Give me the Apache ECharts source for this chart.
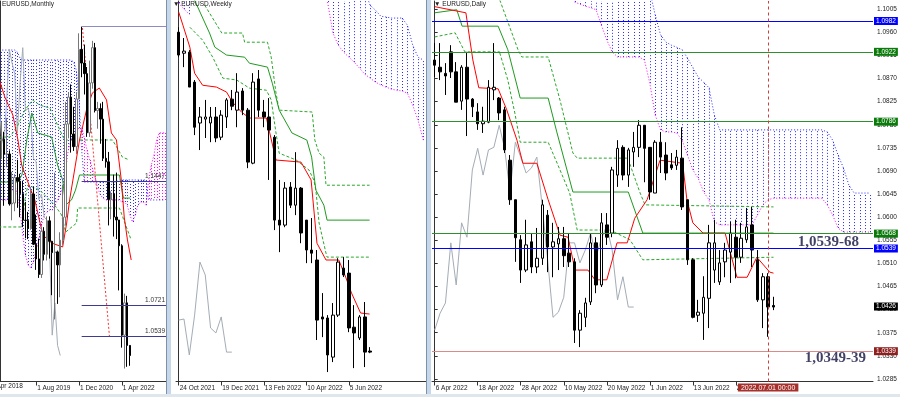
<!DOCTYPE html>
<html>
<head>
<meta charset="utf-8">
<script src="https://cdn.jsdelivr.net/npm/echarts@6/dist/echarts.min.js"></script>
<style>
html,body{margin:0;padding:0;background:#fff;}
#chart{width:900px;height:397px;}
</style>
</head>
<body>
<div id="chart"></div>
<script>
var MONTHS = ['Jan','Feb','Mar','Apr','May','Jun','Jul','Aug','Sep','Oct','Nov','Dec'];
function fmt(d){ return d.getUTCDate() + ' ' + MONTHS[d.getUTCMonth()] + ' ' + d.getUTCFullYear(); }
function dayCats(start, n){
	var d = new Date(start + 'T00:00:00Z'), out = [];
	while (out.length < n) {
		var w = d.getUTCDay();
		if (w !== 0 && w !== 6) out.push(fmt(d));
		d.setUTCDate(d.getUTCDate() + 1);
	}
	return out;
}
function weekCats(start, n){
	var d = new Date(start + 'T00:00:00Z'), out = [];
	for (var i = 0; i < n; i++) { out.push(fmt(d)); d.setUTCDate(d.getUTCDate() + 7); }
	return out;
}
function monthCats(y, m, n){
	var out = [];
	for (var i = 0; i < n; i++) { out.push('1 ' + MONTHS[m] + ' ' + y); m++; if (m > 11) { m = 0; y++; } }
	return out;
}

/* ---------------- categories ---------------- */
var mCats = monthCats(2018, 3, 65);          // Apr 2018 ...
var mFirstShown = 3;                          // Apr..Jun 2018 sit left of the panel edge
var wCats = weekCats('2021-10-24', 47);
var dCats = dayCats('2022-04-06', 82);

/* ---------------- monthly [open, close, low, high] ---------------- */
var mCandles = [
	[1.2324,1.2078,1.2055,1.2414],[1.2078,1.1693,1.1510,1.2097],[1.1693,1.1683,1.1508,1.1852],[1.1683,1.1690,1.1575,1.1791],
	[1.1690,1.1604,1.1301,1.1734],[1.1604,1.1604,1.1526,1.1815],[1.1604,1.1312,1.1302,1.1625],[1.1312,1.1317,1.1216,1.1500],
	[1.1317,1.1466,1.1269,1.1486],[1.1466,1.1445,1.1289,1.1570],[1.1445,1.1372,1.1234,1.1488],[1.1372,1.1217,1.1176,1.1448],
	[1.1217,1.1215,1.1111,1.1324],[1.1215,1.1168,1.1106,1.1265],[1.1168,1.1370,1.1160,1.1412],[1.1370,1.1076,1.1071,1.1412],
	[1.1076,1.0990,1.0926,1.1250],[1.0990,1.0899,1.0879,1.1109],[1.0899,1.1152,1.0879,1.1179],[1.1152,1.1017,1.0981,1.1176],
	[1.1017,1.1213,1.0981,1.1239],[1.1213,1.1093,1.0992,1.1239],[1.1093,1.1027,1.0778,1.1096],[1.1027,1.1031,1.0636,1.1495],
	[1.1031,1.0955,1.0727,1.1039],[1.0955,1.1100,1.0766,1.1146],[1.1100,1.1234,1.1072,1.1422],[1.1234,1.1779,1.1185,1.1909],
	[1.1779,1.1937,1.1696,1.1966],[1.1937,1.1721,1.1612,1.2011],[1.1721,1.1647,1.1622,1.1880],[1.1647,1.1926,1.1603,1.1966],
	[1.1926,1.2216,1.1924,1.2310],[1.2216,1.2136,1.2053,1.2349],[1.2136,1.2074,1.1952,1.2243],[1.2074,1.1728,1.1704,1.2113],
	[1.1728,1.2020,1.1704,1.2150],[1.2020,1.2226,1.1986,1.2266],[1.2226,1.1858,1.1847,1.2254],[1.1858,1.1870,1.1752,1.1909],
	[1.1870,1.1808,1.1664,1.1900],[1.1808,1.1579,1.1563,1.1909],[1.1579,1.1558,1.1524,1.1692],[1.1558,1.1338,1.1186,1.1616],
	[1.1338,1.1370,1.1222,1.1386],[1.1370,1.1235,1.1121,1.1483],[1.1235,1.1218,1.1106,1.1495],[1.1218,1.1067,1.0806,1.1185],
	[1.1067,1.0544,1.0471,1.1076],[1.0544,1.0733,1.0349,1.0787],[1.0733,1.0484,1.0359,1.0774],[1.0484,1.0425,1.0365,1.0486]
];
var mTenkan = [[2.5,1.2025],[4.3,1.1937],[7.3,1.1832],[9.2,1.1686],[10.6,1.1539],[13.6,1.1411],[15.5,1.1335],[18.5,1.1130],
	[21.8,1.1083],[25.9,1.1060],[27.4,1.1200],[28.5,1.1335],[32.2,1.1686],[34.8,1.1861],[37,1.1961],[39.6,1.1990],
	[42.3,1.1920],[44.1,1.1727],[46,1.1686],[47.8,1.1452],[48.9,1.1235],[50.1,1.1101],[51.5,1.0984]];
var mKijun = [[0,1.1440],[9.2,1.1440],[10.7,1.1481],[12.5,1.1686],[14.4,1.1844],[16.6,1.1727],[21.8,1.1703],[24,1.1539],
	[25.9,1.1452],[27,1.1305],[29.2,1.1335],[30.7,1.1393],[32.2,1.1481],[47.1,1.1481],[48.6,1.1346],[51.2,1.1346]];
var mDashHigh = [[0,1.1703],[6.2,1.1703],[9.2,1.1773],[11.8,1.1861],[14.7,1.1920],[17.3,1.1890],[21.1,1.1873],[24,1.1773],
	[26.6,1.1686],[44.5,1.1686],[46.3,1.1639],[48.2,1.1586],[50.8,1.1569]];
var mDashLow = [[0,1.1177],[10.7,1.1177],[11.8,1.1335],[12.9,1.1422],[17.3,1.1393],[22.9,1.1305],[25.5,1.1247],[27,1.1147],
	[31.1,1.1200],[31.5,1.1288],[47.1,1.1288],[49.7,1.1177],[51.5,1.1101]];
var mChikou = [1.1234,1.1779,1.1937,1.1721,1.1647,1.1926,1.2216,1.2136,1.2074,1.1728,1.2020,1.2226,1.1858,
	1.1870,1.1808,1.1579,1.1558,1.1338,1.1370,1.1235,1.1218,1.1067,1.0544,1.0733,1.0484,1.0425];
var mSpanA = [1.1335,1.1335,1.1335,1.1335,1.1335,1.1335,1.1364,1.1393,1.1422,1.1364,1.1276,1.1130,1.1013,1.0954,1.0937,
	1.0972,1.1042,1.1101,1.1188,1.1247,1.1264,1.1276,1.1276,1.1305,1.1335,1.1364,1.1422,1.1510,1.1627,1.1686,1.1715,
	1.1727,1.1756,1.1756,1.1697,1.1627,1.1569,1.1522,1.1463,1.1405,1.1364,1.1346,1.1335,1.1335,1.1335,1.1335,1.1335,
	1.1335,1.1323,1.1323,1.1305,1.1247,1.1206,1.1247,1.1305,1.1323,1.1323,1.1305,1.1452,1.1539,1.1598,1.1686,1.1727,
	1.1727,1.1727];
var mSpanB = [1.2212,1.2212,1.2212,1.2212,1.2212,1.2212,1.2212,1.2212,1.2212,1.2200,1.2165,1.2154,1.2154,1.2154,1.2154,
	1.2154,1.2154,1.2154,1.2154,1.2154,1.2154,1.2154,1.2154,1.2154,1.2154,1.2154,1.2154,1.2154,1.2154,1.2154,1.2142,
	1.2095,1.1920,1.1627,1.1440,1.1440,1.1440,1.1440,1.1440,1.1440,1.1440,1.1440,1.1440,1.1440,1.1440,1.1440,1.1440,
	1.1452,1.1452,1.1452,1.1452,1.1452,1.1452,1.1452,1.1452,1.1452,1.1452,1.1452,1.1335,1.1335,1.1335,1.1335,1.1335,
	1.1335,1.1335];
var mTrend = [[33.3,1.2341],[43.4,1.0533]];
var mLevels = [1.2349, 1.1447, 1.0721, 1.0539];
var mLevelFrom = 33;

/* ---------------- weekly [open, close, low, high] ---------------- */
var wCandles = [
	[1.1644,1.1557,1.1549,1.1663],[1.1564,1.1572,1.1511,1.1622],[1.1568,1.1435,1.1435,1.1576],[1.1454,1.1282,1.1252,1.1462],
	[1.1298,1.1321,1.1195,1.1359],[1.1313,1.1321,1.1241,1.1386],[1.1298,1.1321,1.1225,1.1359],[1.1321,1.1241,1.1225,1.1359],
	[1.1244,1.1328,1.1233,1.1347],[1.1321,1.1386,1.1279,1.1393],[1.1389,1.1362,1.1347,1.1424],[1.1347,1.1416,1.1282,1.1488],
	[1.1420,1.1347,1.1328,1.1431],[1.1347,1.1149,1.1126,1.1355],[1.1145,1.1454,1.1141,1.1488],[1.1466,1.1347,1.1321,1.1500],
	[1.1340,1.1321,1.1282,1.1386],[1.1321,1.1271,1.1081,1.1393],[1.1244,1.0928,1.0890,1.1252],[1.0928,1.0909,1.0806,1.1081],
	[1.0909,1.1050,1.0901,1.1073],[1.1054,1.0985,1.0974,1.1073],[1.0985,1.1050,1.0947,1.1187],[1.1050,1.0879,1.0840,1.1054],
	[1.0928,1.0814,1.0764,1.0928],[1.0814,1.0802,1.0764,1.0936],[1.0776,1.0547,1.0471,1.0814],[1.0559,1.0551,1.0482,1.0650],
	[1.0555,1.0414,1.0349,1.0566],[1.0406,1.0566,1.0387,1.0612],[1.0566,1.0768,1.0559,1.0783],[1.0745,1.0719,1.0711,1.0787],
	[1.0726,1.0517,1.0501,1.0776],[1.0520,1.0498,1.0364,1.0604],[1.0479,1.0559,1.0471,1.0566],[1.0559,1.0425,1.0368,1.0616],
	[1.0429,1.0425,1.0421,1.0444]
];
var wTenkan = [[0,1.1721],[0.8,1.1671],[2.1,1.1587],[3,1.1488],[4.5,1.1442],[7.1,1.1435],[9,1.1416],[10.1,1.1378],
	[11.8,1.1340],[13.3,1.1317],[16.5,1.1317],[17,1.1271],[18.3,1.1157],[23,1.1149],[24.9,1.1081],[26,1.0840],
	[27.7,1.0776],[30.1,1.0776],[31.4,1.0711],[32.5,1.0650],[34.2,1.0574],[35.9,1.0570]];
var wKijun = [[3,1.1766],[5.8,1.1641],[6.8,1.1587],[9,1.1557],[12.4,1.1549],[13.3,1.1526],[16.7,1.1511],[17.6,1.1450],
	[18.9,1.1347],[21.3,1.1260],[24.1,1.1233],[25,1.1168],[25.8,1.1042],[27.3,1.0985],[27.9,1.0928],[35.9,1.0928]];
var wDashHigh = [[4.9,1.1747],[8.1,1.1641],[12,1.1641],[12.4,1.1606],[16.7,1.1606],[17.4,1.1549],[18.3,1.1412],[18.9,1.1347],
	[25.1,1.1340],[25.6,1.1233],[26.4,1.1183],[27.3,1.1168],[27.7,1.1061],[35.9,1.1061]];
var wDashLow = [[2.1,1.1663],[4.5,1.1614],[6.4,1.1549],[8.3,1.1469],[10.9,1.1462],[13.3,1.1431],[16.5,1.1423],[17.4,1.1386],
	[18.3,1.1260],[18.9,1.1183],[22.1,1.1157],[24.5,1.1119],[25.4,1.1081],[25.8,1.1042],[26.4,1.0917],[27.7,1.0802],
	[27.9,1.0787],[35.9,1.0787]];
var wChikou = [1.0547,1.0551,1.0414,1.0566,1.0768,1.0719,1.0517,1.0498,1.0559,1.0425,1.0425];
var wOldCloudA = [1.1755,1.1732,1.1713];
var wOldCloudB = [1.1800,1.1800,1.1800];
var wCloudStart = 28;
var wSpanA = [1.1759,1.1641,1.1595,1.1568,1.1549,1.1530,1.1507,1.1484,1.1469,1.1454,1.1443,1.1435,1.1427,1.1423,
	1.1420,1.1412,1.1366,1.1309,1.1233];
var wSpanB = [1.1800,1.1800,1.1800,1.1800,1.1800,1.1800,1.1800,1.1800,1.1747,1.1728,1.1705,1.1702,1.1698,1.1698,
	1.1698,1.1671,1.1595,1.1549,1.1538];

/* ---------------- daily [open, close, low, high] ---------------- */
var dCandles = [
	[1.0906,1.0896,1.0873,1.0939],[1.0892,1.0883,1.0867,1.0939],[1.0880,1.0875,1.0838,1.0900],[1.0922,1.0883,1.0871,1.0935],
	[1.0883,1.0824,1.0824,1.0902],[1.0826,1.0892,1.0809,1.0896],[1.0892,1.0830,1.0758,1.0922],[1.0830,1.0815,1.0795,1.0832],
	[1.0805,1.0782,1.0770,1.0822],[1.0782,1.0787,1.0764,1.0815],[1.0785,1.0853,1.0783,1.0867],[1.0848,1.0853,1.0828,1.0939],
	[1.0832,1.0803,1.0789,1.0834],[1.0809,1.0731,1.0725,1.0815],[1.0711,1.0634,1.0624,1.0721],[1.0634,1.0560,1.0513,1.0634],
	[1.0556,1.0497,1.0472,1.0565],[1.0497,1.0546,1.0493,1.0595],[1.0552,1.0503,1.0491,1.0569],[1.0503,1.0520,1.0491,1.0579],
	[1.0520,1.0624,1.0507,1.0634],[1.0604,1.0542,1.0493,1.0614],[1.0542,1.0552,1.0483,1.0589],[1.0548,1.0558,1.0497,1.0581],
	[1.0558,1.0525,1.0503,1.0581],[1.0530,1.0513,1.0503,1.0569],[1.0513,1.0380,1.0355,1.0520],[1.0380,1.0413,1.0347,1.0419],
	[1.0405,1.0433,1.0386,1.0443],[1.0435,1.0550,1.0429,1.0569],[1.0550,1.0468,1.0452,1.0561],[1.0468,1.0589,1.0464,1.0608],
	[1.0585,1.0561,1.0546,1.0608],[1.0569,1.0692,1.0561,1.0698],[1.0682,1.0734,1.0659,1.0750],[1.0736,1.0682,1.0672,1.0740],
	[1.0682,1.0731,1.0659,1.0735],[1.0727,1.0736,1.0698,1.0766],[1.0736,1.0779,1.0717,1.0789],[1.0779,1.0734,1.0668,1.0779],
	[1.0736,1.0649,1.0634,1.0736],[1.0647,1.0746,1.0647,1.0750],[1.0746,1.0717,1.0686,1.0766],[1.0721,1.0686,1.0672,1.0746],
	[1.0702,1.0696,1.0692,1.0725],[1.0701,1.0717,1.0692,1.0731],[1.0715,1.0620,1.0614,1.0775],[1.0634,1.0517,1.0507,1.0634],
	[1.0517,1.0405,1.0403,1.0520],[1.0409,1.0415,1.0396,1.0439],[1.0413,1.0444,1.0361,1.0485],[1.0442,1.0550,1.0384,1.0585],
	[1.0497,1.0550,1.0472,1.0595],[1.0474,1.0511,1.0468,1.0536],[1.0513,1.0536,1.0483,1.0550],[1.0532,1.0569,1.0472,1.0591],
	[1.0561,1.0522,1.0481,1.0595],[1.0522,1.0559,1.0511,1.0589],[1.0556,1.0581,1.0550,1.0618],[1.0585,1.0536,1.0503,1.0620],
	[1.0517,1.0439,1.0435,1.0536],[1.0439,1.0484,1.0384,1.0491],[1.0484,1.0425,1.0367,1.0491],[1.0428,1.0425,1.0419,1.0445]
];
var dTenkan = [[0,1.1010],[5.8,1.0998],[7.1,1.0906],[8.2,1.0852],[11.8,1.0850],[13.4,1.0809],[15.3,1.0750],[16.4,1.0705],
	[19,1.0705],[21.1,1.0634],[23.3,1.0565],[24.8,1.0561],[26.1,1.0497],[28.5,1.0497],[29.8,1.0478],[32,1.0478],
	[33.9,1.0550],[35.8,1.0550],[37.2,1.0598],[39.5,1.0634],[41.9,1.0711],[46.1,1.0705],[46.9,1.0634],[48,1.0589],
	[49.9,1.0569],[54,1.0569],[56.2,1.0483],[58.1,1.0483],[59.9,1.0522],[62.3,1.0493],[63,1.0491]];
var dKijun = [[0,1.0998],[4.1,1.1004],[5.1,1.0972],[11.8,1.0972],[13.6,1.0926],[15.9,1.0832],[21.1,1.0832],[22.7,1.0766],
	[25.7,1.0649],[36,1.0649],[38.7,1.0569],[63,1.0569]];
var dDashTop = [[0,1.0951],[3.8,1.0959],[5.6,1.0922],[12.1,1.0922]];
var dDashHigh = [[12.1,1.1023],[15.5,1.0926],[16.2,1.0912],[21.1,1.0912],[23.3,1.0828],[25.7,1.0725],[26.5,1.0715],
	[35.9,1.0715],[38.2,1.0647],[39.1,1.0624],[63,1.0620]];
var dDashLow = [[12.1,1.0920],[13.6,1.0867],[14.9,1.0803],[15.9,1.0746],[21.1,1.0746],[23.3,1.0692],[25.1,1.0647],
	[26.5,1.0575],[32.6,1.0575],[36.3,1.0556],[38.7,1.0517],[63,1.0522]];
var dChikou = [1.0380,1.0413,1.0433,1.0550,1.0468,1.0589,1.0561,1.0692,1.0734,1.0682,1.0731,1.0736,1.0779,1.0734,
	1.0649,1.0746,1.0717,1.0686,1.0696,1.0717,1.0620,1.0517,1.0405,1.0415,1.0444,1.0550,1.0550,1.0511,1.0536,1.0569,
	1.0522,1.0559,1.0581,1.0536,1.0439,1.0484,1.0425,1.0425];
var dCloudStart = 26;
var dSpanA = [1.1019,1.1015,1.1011,1.1008,1.1004,1.0974,1.0945,1.0922,1.0912,1.0912,1.0912,1.0912,1.0912,1.0906,
	1.0861,1.0799,1.0770,1.0766,1.0766,1.0764,1.0750,1.0721,1.0692,1.0676,1.0649,1.0634,1.0591,1.0585,1.0585,1.0585,
	1.0585,1.0585,1.0585,1.0585,1.0604,1.0624,1.0634,1.0637,1.0637,1.0637,1.0637,1.0637,1.0637,1.0637,1.0637,1.0637,
	1.0637,1.0624,1.0604,1.0579,1.0571,1.0571,1.0571,1.0571,1.0571,1.0571];
var dSpanB = [1.1040,1.1040,1.1040,1.1040,1.1040,1.1040,1.1040,1.1040,1.1040,1.1040,1.1040,1.1040,1.1040,1.1040,
	1.1040,1.0994,1.0955,1.0941,1.0935,1.0931,1.0926,1.0910,1.0891,1.0873,1.0863,1.0852,1.0799,1.0770,1.0770,1.0770,
	1.0770,1.0770,1.0770,1.0770,1.0770,1.0770,1.0770,1.0770,1.0770,1.0770,1.0770,1.0770,1.0770,1.0770,1.0770,1.0770,
	1.0770,1.0766,1.0750,1.0721,1.0696,1.0663,1.0647,1.0647,1.0647,1.0647];
var dBlueLevels = [1.0982, 1.0539];
var dGreenLevels = [1.0922, 1.0786, 1.0568];
var dSupportLevel = 1.0339;
var dLastPrice = 1.0426;
var dMarkDay = '1 Jul 2022';
var dMarkText = '2022.07.01 00:00';
var dNotes = [[73.2, 1.0552], [74.5, 1.0326]];
var dNoteTexts = ['1,0539-68', '1,0349-39'];
var dTicks = [1.1005,1.0960,1.0915,1.0870,1.0825,1.0780,1.0735,1.0690,1.0645,1.0600,1.0555,1.0510,1.0465,1.0420,1.0375,1.0330,1.0285];

/* ---------------- helpers ---------------- */
var RED = '#ff0000', KIJUN = '#1f9a1f', DASH = '#2aa82a', CHIKOU = '#a3acb5', BLUE = '#2a2aff', MAGENTA = '#ff00ff';
var FONT = 'Liberation Sans, Arial, sans-serif';
var CLEAR = 'rgba(0,0,0,0)';

function perIndex(arr, start){ return arr.map(function (v, i) { return [i + start, v]; }); }

function ln(xi, yi, data, color, type, extra){
	var s = {type: 'line', xAxisIndex: xi, yAxisIndex: yi, data: data, symbol: 'none', silent: true, z: 3,
		lineStyle: {color: color, width: 1, type: type || 'solid'}};
	for (var k in extra) s[k] = extra[k];
	return s;
}

function candles(xi, yi, data, bw, bullBorder){
	return {type: 'candlestick', xAxisIndex: xi, yAxisIndex: yi, data: data, barWidth: bw, silent: true, z: 4,
		itemStyle: {color: '#fff', color0: '#000', borderColor: bullBorder, borderColor0: '#000', borderWidth: 1}};
}

// vertical dotted hatch between the two spans, coloured by which span is on top
function hatch(xi, yi, A, B, start){
	var d = [];
	for (var i = 0; i < A.length; i++) d.push([i + start, A[i], B[i]]);
	return {type: 'custom', xAxisIndex: xi, yAxisIndex: yi, data: d, silent: true, z: 1,
		encode: {x: 0, y: [1, 2]},
		renderItem: function (params, api) {
			var cs = params.coordSys;
			var a = api.value(1), b = api.value(2);
			var p1 = api.coord([api.value(0), a]), p2 = api.coord([api.value(0), b]);
			var top = cs.y, bot = cs.y + cs.height;
			var y1 = Math.max(top, Math.min(bot, p1[1])), y2 = Math.max(top, Math.min(bot, p2[1]));
			var x = Math.round(p1[0]) + 0.5;
			if (x < cs.x || x > cs.x + cs.width || Math.abs(y1 - y2) < 1) return null;
			return {type: 'line', shape: {x1: x, y1: y1, x2: x, y2: y2},
				style: {stroke: b > a ? BLUE : MAGENTA, lineWidth: 1, lineDash: [1, 2]}};
		}};
}

function cloud(xi, yi, A, B, start){
	return [
		hatch(xi, yi, A, B, start),
		ln(xi, yi, perIndex(A, start), MAGENTA, [1, 2], {z: 2}),
		ln(xi, yi, perIndex(B, start), BLUE, [1, 2], {z: 2})
	];
}

function catAxis(grid, cats, last, interval, first){
	first = first || 0;
	function show(i){ return i % interval === 0 && i <= last; }
	return {type: 'category', gridIndex: grid, data: cats, boundaryGap: true, min: first,
		axisLine: {show: true, lineStyle: {color: '#333', width: 1}},
		axisTick: {show: true, alignWithLabel: true, length: 4, interval: show, lineStyle: {color: '#333'}},
		axisLabel: {interval: show, align: 'left', margin: 3, fontSize: 6.5, color: '#222', fontFamily: FONT, padding: [0, 0, 0, 1]},
		splitLine: {show: false}};
}
function valAxis(grid, n, first){
	return {type: 'value', gridIndex: grid, min: (first || 0) - 0.5, max: n - 0.5, show: false};
}
function hiddenY(grid, min, max){
	return {type: 'value', gridIndex: grid, min: min, max: max, scale: true, position: 'left',
		axisLine: {show: true, lineStyle: {color: '#333'}}, axisTick: {show: false},
		axisLabel: {show: false}, splitLine: {show: false}};
}

function level(v, lineColor, boxColor){
	return {yAxis: v, lineStyle: {color: lineColor, type: 'solid', width: 1},
		label: {show: true, position: 'end', distance: 1, formatter: v.toFixed(4), backgroundColor: boxColor,
			color: '#fff', fontSize: 6.5, fontFamily: FONT, padding: [1, 2, 0, 2]}};
}

/* ---------------- series ---------------- */
var series = [];

// monthly (axes 0/1, y 0)
series = series.concat(cloud(1, 0, mSpanA, mSpanB, 0));
series.push(ln(1, 0, perIndex(mChikou, 0), CHIKOU));
series.push(ln(1, 0, mDashHigh, DASH, [3, 2]));
series.push(ln(1, 0, mDashLow, DASH, [3, 2]));
series.push(ln(1, 0, mKijun, KIJUN));
series.push(ln(1, 0, mTenkan, RED));
series.push(ln(1, 0, mTrend, '#ff3030', [2, 2], {
	markLine: {symbol: ['none', 'none'], silent: true, animation: false,
		data: mLevels.map(function (v, i) {
			return [
				{coord: [mLevelFrom, v], lineStyle: {color: i === 0 ? '#8c8cc4' : '#3c3c96', width: 1, type: 'solid'},
					label: {show: i > 0, position: 'insideEndTop', distance: 1, formatter: v.toFixed(4),
						fontSize: 6.5, color: '#333', fontFamily: FONT}},
				{coord: [mCats.length - 0.5, v]}
			];
		})}
}));
series.push(candles(0, 0, mCandles, 2, '#777'));

// weekly (axes 2/3, y 1)
series = series.concat(cloud(3, 1, wOldCloudA, wOldCloudB, 0));
series = series.concat(cloud(3, 1, wSpanA, wSpanB, wCloudStart));
series.push(ln(3, 1, perIndex(wChikou, 0), CHIKOU));
series.push(ln(3, 1, wDashHigh, DASH, [3, 2]));
series.push(ln(3, 1, wDashLow, DASH, [3, 2]));
series.push(ln(3, 1, wKijun, KIJUN));
series.push(ln(3, 1, wTenkan, RED));
series.push(candles(2, 1, wCandles, 3, '#000'));

// daily (axes 4/5, y 2)
var markIdx = dCats.indexOf(dMarkDay);
var lastBox = level(dLastPrice, CLEAR, '#000');
series = series.concat(cloud(5, 2, dSpanA, dSpanB, dCloudStart));
series.push(ln(5, 2, perIndex(dChikou, 0), CHIKOU));
series.push(ln(5, 2, dDashTop, DASH, [3, 2]));
series.push(ln(5, 2, dDashHigh, DASH, [3, 2]));
series.push(ln(5, 2, dDashLow, DASH, [3, 2]));
series.push(ln(5, 2, dKijun, KIJUN, 'solid', {
	markLine: {symbol: ['none', 'none'], silent: true, animation: false, precision: 4,
		data: dGreenLevels.map(function (v) { return level(v, '#2e8f2e', '#0a7a0a'); })
			.concat(dBlueLevels.map(function (v) { return level(v, '#0000ff', '#0000ff'); }))
			.concat([level(dSupportLevel, '#d98a8a', '#8e1f1f'), lastBox])
			.concat([{xAxis: markIdx, lineStyle: {color: '#d23c3c', type: [3, 3], width: 1},
				label: {show: true, position: 'start', distance: 2, formatter: dMarkText, backgroundColor: '#a5302c',
					color: '#fff', fontSize: 7, fontFamily: FONT, padding: [1, 3, 0, 3]}}])}
}));
series.push(ln(5, 2, dTenkan, RED));
series.push(candles(4, 2, dCandles, 3, '#000'));
series.push({type: 'scatter', xAxisIndex: 5, yAxisIndex: 2, symbolSize: 1, silent: true, z: 10,
	itemStyle: {color: CLEAR},
	data: dNotes.map(function (p, i) { return {value: p, label: {formatter: dNoteTexts[i]}}; }),
	label: {show: true, position: 'inside', color: '#12123f', fontFamily: 'Liberation Serif, Times New Roman, serif',
		fontWeight: 'bold', fontSize: 15}});

var option = {
	animation: false,
	backgroundColor: '#fff',
	textStyle: {fontFamily: FONT},
	title: [
		{text: 'EURUSD,Monthly', left: 2, top: 1, padding: 0, textStyle: {fontSize: 6.5, fontWeight: 'normal', color: '#222'}},
		{text: '\u25BC EURUSD,Weekly', left: 173, top: 1, padding: 0, textStyle: {fontSize: 6.5, fontWeight: 'normal', color: '#222'}},
		{text: '\u25BC EURUSD,Daily', left: 434, top: 1, padding: 0, textStyle: {fontSize: 6.5, fontWeight: 'normal', color: '#222'}}
	],
	grid: [
		{left: 0, top: 1, width: 166, height: 380.5},
		{left: 176, top: 1, width: 250, height: 380.5},
		{left: 432, top: 1, width: 441, height: 380.5}
	],
	xAxis: [
		catAxis(0, mCats, mCandles.length - 1, 16, mFirstShown),
		valAxis(0, mCats.length, mFirstShown),
		catAxis(1, wCats, wCandles.length - 1, 8),
		valAxis(1, wCats.length),
		catAxis(2, dCats, dCandles.length - 1, 8),
		valAxis(2, dCats.length)
	],
	yAxis: [
		hiddenY(0, 1.0273, 1.2499),
		hiddenY(1, 1.0313, 1.1763),
		{type: 'value', gridIndex: 2, min: 1.0280, max: 1.1021, position: 'right',
			axisLine: {show: true, lineStyle: {color: '#333'}},
			axisTick: {show: true, length: 3, customValues: dTicks, lineStyle: {color: '#333'}},
			axisLabel: {show: true, customValues: dTicks, margin: 4, fontSize: 6.5, color: '#222', fontFamily: FONT,
				formatter: function (v) { return v.toFixed(4); }},
			splitLine: {show: false}}
	],
	graphic: [
		// first monthly date label, cut by the left edge of the window
		{type: 'text', z: 50, left: -9, top: 383, style: {text: mCats[0], fontSize: 6.5, fill: '#222', fontFamily: FONT}},
		{type: 'rect', z: 100, shape: {x: 166, y: 0, width: 5, height: 397}, style: {fill: '#c6d7ea'}},
		{type: 'rect', z: 100, shape: {x: 166, y: 0, width: 1, height: 397}, style: {fill: '#7d91aa'}},
		{type: 'rect', z: 100, shape: {x: 426, y: 0, width: 5, height: 397}, style: {fill: '#c6d7ea'}},
		{type: 'rect', z: 100, shape: {x: 426, y: 0, width: 1, height: 397}, style: {fill: '#7d91aa'}},
		{type: 'rect', z: 100, shape: {x: 0, y: 394, width: 900, height: 3}, style: {fill: '#dfe6ee'}}
	],
	series: series
};

var chart = echarts.init(document.getElementById('chart'), null, {renderer: 'canvas'});
chart.setOption(option);
</script>
</body>
</html>
